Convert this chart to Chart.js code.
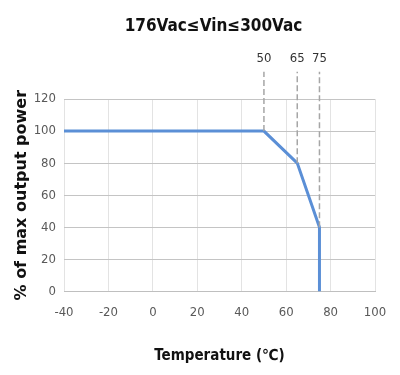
<!DOCTYPE html>
<html lang="en">
<head>
    <meta charset="UTF-8">
    <title>Derating curve</title>
    <script src="https://cdn.jsdelivr.net/npm/chart.js"></script>
    <style>
        html, body { margin: 0; padding: 0; background: #fff; }
        #wrap { width: 400px; height: 375px; }
    </style>
</head>
<body>
    <div id="wrap"><canvas id="derating"></canvas></div>

    <script>
        // derating curve
        const temps = [-40, 50, 65, 75, 75];
        const power = [100, 100, 80, 40, 0];
        // dashed guide lines and their labels
        const markers = [50, 65, 75];
        const markerLevel = [100, 80, 40];

        const font = "'DejaVu Sans Condensed', 'Liberation Sans', sans-serif";
        const titleText = "176Vac≤Vin≤300Vac";
        const guideTop = 137;

        const datasets = [{
            data: temps.map((t, i) => ({ x: t, y: power[i] })),
            borderColor: "#5b8fd6",
            borderWidth: 3,
            pointRadius: 0,
            showLine: true,
            tension: 0
        }];
        markers.forEach((m, i) => {
            datasets.push({
                data: [{ x: m, y: markerLevel[i] }, { x: m, y: guideTop }],
                borderColor: "#a6a6a6",
                borderWidth: 1.5,
                borderDash: [6, 3],
                pointRadius: 0,
                showLine: true,
                clip: false
            });
        });
        // keep the blue curve on top
        datasets.push(datasets.shift());

        // title over the plot area, and the 50 / 65 / 75 labels above the guides
        const topTexts = {
            id: "topTexts",
            afterDraw(chart) {
                const c = chart.ctx;
                const xs = chart.scales.x;
                const area = chart.chartArea;
                c.save();
                c.textAlign = "center";
                c.textBaseline = "middle";
                c.fillStyle = "#111";
                c.font = "bold 17px " + font;
                c.fillText(titleText, (area.left + area.right) / 2 - 6, 27);
                c.font = "13px " + font;
                c.fillStyle = "#333";
                markers.forEach(m => c.fillText(String(m), xs.getPixelForValue(m), 59));
                c.restore();
            }
        };

        new Chart(document.getElementById("derating"), {
            type: "scatter",
            data: { datasets },
            plugins: [topTexts],
            options: {
                responsive: true,
                maintainAspectRatio: false,
                animation: false,
                layout: { padding: { top: 99, left: 8, right: 25, bottom: 6 } },
                plugins: {
                    legend: { display: false },
                    tooltip: { enabled: false },
                    title: { display: false }
                },
                scales: {
                    x: {
                        type: "linear",
                        min: -40,
                        max: 100,
                        ticks: { stepSize: 20, color: "#595959", font: { family: font, size: 13 }, padding: 13 },
                        grid: { color: "#e3e3e3", drawTicks: false },
                        border: { color: "#bfbfbf" },
                        title: {
                            display: true,
                            text: "Temperature (℃)",
                            color: "#111",
                            font: { family: font, size: 15, weight: "bold" },
                            padding: { top: 14 }
                        }
                    },
                    y: {
                        min: 0,
                        max: 120,
                        afterFit(scale) { scale.width = 56; },
                        ticks: { stepSize: 20, color: "#595959", font: { family: font, size: 13 }, padding: 8 },
                        grid: { color: "#c4c4c4", drawTicks: false },
                        border: { display: false },
                        title: {
                            display: true,
                            text: "% of max output power",
                            color: "#111",
                            font: { family: "'DejaVu Sans', sans-serif", size: 16, weight: "bold" },
                            padding: { bottom: 2 }
                        }
                    }
                }
            }
        });
    </script>
</body>
</html>
